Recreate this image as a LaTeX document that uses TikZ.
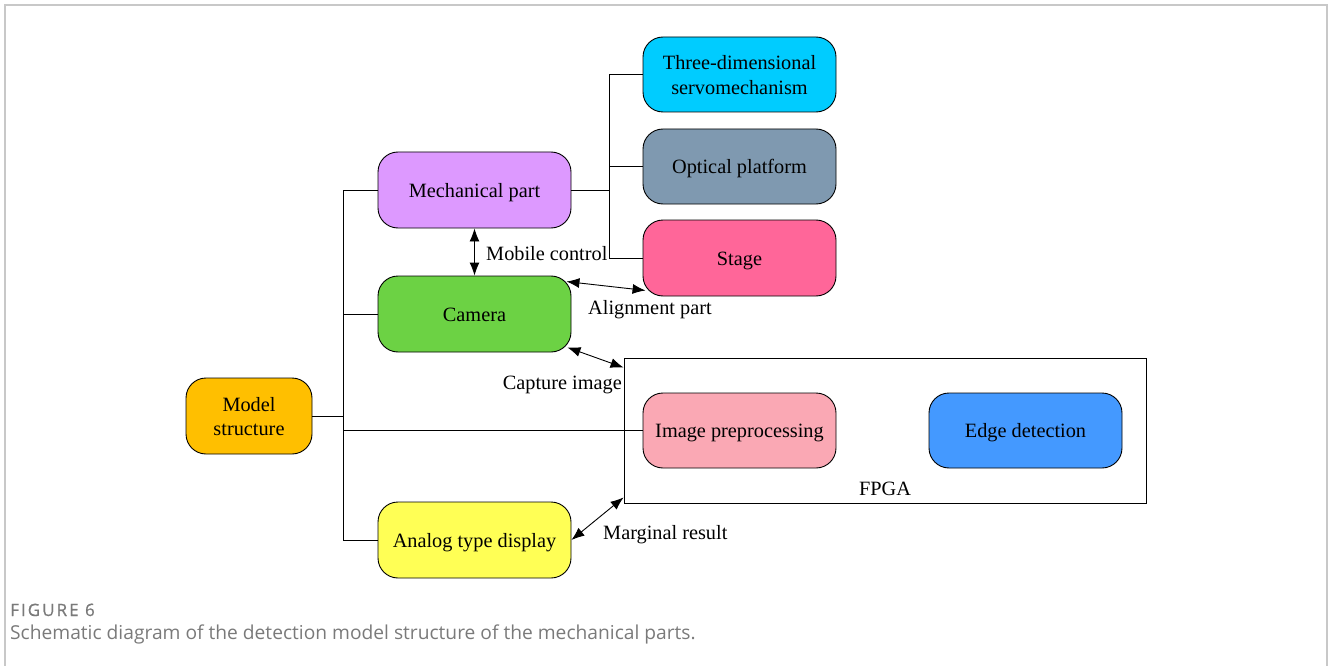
\documentclass[tikz,border=0pt]{standalone}
\usepackage{fontspec}
\setmainfont{Liberation Serif}
\newfontfamily\capfont{Open Sans}
\newfontfamily\figfont[LetterSpace=12,FakeBold=0.8]{Open Sans}
\usetikzlibrary{arrows.meta,calc}
\definecolor{cModel}{HTML}{FFBF00}
\definecolor{cMech}{HTML}{DD99FF}
\definecolor{cCam}{HTML}{6CD244}
\definecolor{cAnalog}{HTML}{FFFF55}
\definecolor{cThree}{HTML}{00CCFF}
\definecolor{cOpt}{HTML}{7F99B0}
\definecolor{cStage}{HTML}{FF6699}
\definecolor{cImg}{HTML}{FAA8B4}
\definecolor{cEdge}{HTML}{4499FF}
\definecolor{cFrame}{HTML}{C8C8C8}
\definecolor{cCap}{HTML}{7A7A7A}
\newcommand\lowtxt[1]{\raisebox{-2.5pt}[\height][\depth]{\begin{tabular}{@{}c@{}}#1\end{tabular}}}
\begin{document}
\begin{tikzpicture}[x=1pt,y=-1pt,
  box/.style={draw=black, line width=0.9pt, rounded corners=20pt, minimum width=193pt, minimum height=76pt, font=\fontsize{20.3}{24.5}\selectfont, inner sep=0pt},
  conn/.style={line width=0.9pt},
  dbl/.style={line width=0.9pt, {Latex[length=13pt,width=10pt]}-{Latex[length=13pt,width=10pt]}},
  lbl/.style={font=\fontsize{20.3}{24.5}\selectfont, inner sep=0pt}]
\useasboundingbox (0,0) rectangle (1328,666);
% frame
\draw[cFrame, line width=1.5pt] (5,666) -- (5,5) -- (1327,5) -- (1327,666);
% FPGA container
\node[draw=black, line width=0.9pt, minimum width=522pt, minimum height=145pt, inner sep=0pt] (fpga) at (885,430.5) {};
\node[lbl] (fpgalbl) at (885,489) {FPGA};
% nodes
\node[box, fill=cModel, minimum width=126pt] (model) at (249,416) {\lowtxt{Model\\structure}};
\node[box, fill=cMech] (mech) at (474.5,190) {\lowtxt{Mechanical part}};
\node[box, fill=cCam] (camera) at (474.5,314) {\lowtxt{Camera}};
\node[box, fill=cAnalog] (analog) at (474.5,540) {\lowtxt{Analog type display}};
\node[box, fill=cThree, minimum height=75pt] (three) at (739.5,74.5) {\lowtxt{Three-dimensional\\servomechanism}};
\node[box, fill=cOpt, minimum height=75pt] (optical) at (739.5,166.5) {\lowtxt{Optical platform}};
\node[box, fill=cStage] (stage) at (739.5,258) {\lowtxt{Stage}};
\node[box, fill=cImg, minimum height=75pt] (imgpre) at (739.5,430.5) {\lowtxt{Image preprocessing}};
\node[box, fill=cEdge, minimum height=75pt] (edge) at (1025.5,430.5) {\lowtxt{Edge detection}};
% tree connectors
\coordinate (j1) at (343,416);
\coordinate (j2) at (609,190);
\draw[conn] (model.east) -- (j1);
\draw[conn] (mech.west) -- (mech.west -| j1) -- (analog.west -| j1) -- (analog.west);
\draw[conn] (camera.west) -- (camera.west -| j1);
\draw[conn] (imgpre.west) -- (imgpre.west -| j1);
\draw[conn] (mech.east) -- (mech.east -| j2);
\draw[conn] (three.west) -- (three.west -| j2) -- (stage.west -| j2) -- (stage.west);
\draw[conn] (optical.west) -- (optical.west -| j2);
% labelled double arrows
\draw[dbl] (mech.south) -- (camera.north);
\node[lbl, anchor=west] (mobl) at (486,253.5) {Mobile control};
\draw[dbl] ($(camera.north east)+(-5,6)$) -- ($(stage.south west)+(3,-6)$);
\node[lbl, anchor=west] (alil) at (588,309.5) {Alignment part};
\draw[dbl] ($(camera.south east)+(-4,-5)$) -- ($(fpga.north west)+(0,10)$);
\node[lbl, anchor=east] (capl) at (622,384.5) {Capture image};
\draw[dbl] ($(fpga.south west)+(0,-6)$) -- (analog.east);
\node[lbl, anchor=west] (marl) at (603,534.5) {Marginal result};
% caption
\node[anchor=base west, inner sep=0pt, text=cCap, font=\figfont\fontsize{17}{20}\selectfont] (figl) at (10,616) {FIGURE 6};
\node[anchor=base west, inner sep=0pt, text=cCap, font=\capfont\fontsize{19.2}{22}\selectfont] (capt) at (10,639) {Schematic diagram of the detection model structure of the mechanical parts.};
\end{tikzpicture}
\end{document}
